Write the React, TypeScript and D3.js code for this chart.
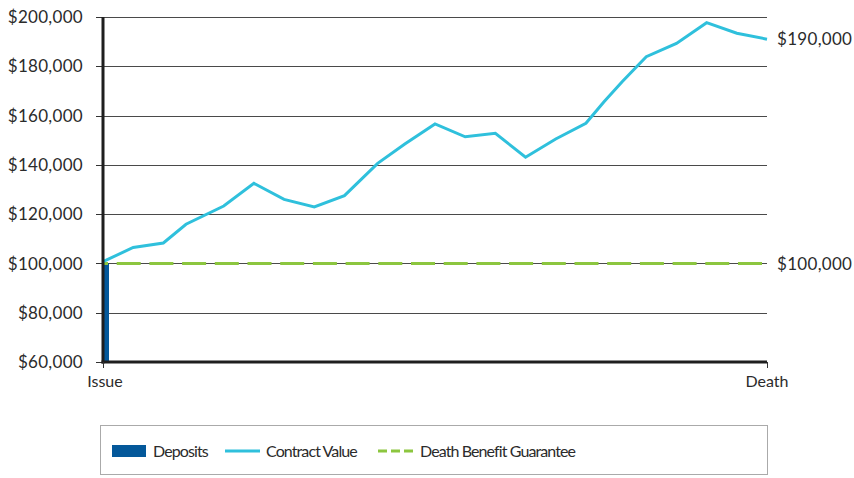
import React from "react";
import * as d3 from "d3";

// contract value path, x in policy years from Issue (0) to Death (22)
const years = [0, 1, 2, 2.75, 4, 5, 6, 7, 8, 9.1, 10, 11, 12, 13, 14, 15, 16, 16.6, 17.2, 18, 19, 20, 21, 22];
const contractValue = [
  100700, 106500, 108300, 115900, 123300, 132500, 126000, 122900, 127500, 140600, 148500, 156600,
  151400, 152800, 143100, 150500, 156900, 165600, 173700, 183900, 189300, 197700, 193400, 191000,
];
const depositYears = [0];
const depositValues = [100000];
const guaranteeYears = [0, 22];
const guaranteeValues = [100000, 100000];
const yTicks = [60000, 80000, 100000, 120000, 140000, 160000, 180000, 200000];
const xTickYears = [0, 22];
const xTickLabels = ["Issue", "Death"];
const endLabels = ["$190,000", "$100,000"];
const legendLabels = ["Deposits", "Contract Value", "Death Benefit Guarantee"];

const W = 854;
const H = 478;
const FONT = "Lato, 'Open Sans', sans-serif";
const TEXT = "#2b2b2b";
const BLUE = "#04589a";
const CYAN = "#2fc0dc";
const GREEN = "#8cc63f";

export default function App() {
  const x = d3.scaleLinear().domain([0, 22]).range([103, 767]);
  const y = d3.scaleLinear().domain([60000, 200000]).range([362, 17]);
  const fmt = (v: number) => "$" + d3.format(",")(v);

  const line = d3
    .line<number>()
    .x((_, i) => x(years[i]))
    .y((d) => y(d));

  const gLine = d3
    .line<number>()
    .x((_, i) => x(guaranteeYears[i]))
    .y((d) => y(d));

  const numStyle = { fontFamily: FONT, fontSize: 17, letterSpacing: 0.3, fill: TEXT };
  const legStyle = { fontFamily: FONT, fontSize: 16, letterSpacing: -0.9, fill: TEXT };

  return (
    <div style={{ position: "absolute", left: 0, top: 0 }}>
      <svg width={W} height={H} style={{ display: "block", background: "#fff" }}>
        {/* gridlines + y ticks */}
        {yTicks.map((t) => (
          <g key={t}>
            <line x1={x(0)} x2={x(22)} y1={Math.round(y(t)) + 0.5} y2={Math.round(y(t)) + 0.5} stroke="#4a4a4a" strokeWidth={1} />
            <line x1={96} x2={x(0)} y1={Math.round(y(t)) + 0.5} y2={Math.round(y(t)) + 0.5} stroke="#333" strokeWidth={1} />
            <text x={83} y={y(t)} dy="0.36em" textAnchor="end" style={numStyle}>
              {fmt(t)}
            </text>
          </g>
        ))}

        {/* deposits */}
        {depositYears.map((d, i) => (
          <rect key={i} x={x(d) + 1} y={y(depositValues[i])} width={5} height={y(60000) - y(depositValues[i])} fill={BLUE} />
        ))}

        {/* death benefit guarantee */}
        <path
          d={gLine(guaranteeValues) || ""}
          fill="none"
          stroke={GREEN}
          strokeWidth={3}
          strokeDasharray="24 8.7"
          strokeDashoffset={19}
        />

        {/* contract value */}
        <path d={line(contractValue) || ""} fill="none" stroke={CYAN} strokeWidth={3} strokeLinejoin="miter" />

        {/* axes */}
        <line x1={x(0)} x2={x(0)} y1={y(200000)} y2={y(60000) + 1.5} stroke="#1f1f1f" strokeWidth={3} />
        <line x1={x(0) - 1.5} x2={x(22)} y1={y(60000)} y2={y(60000)} stroke="#1f1f1f" strokeWidth={3} />
        {xTickYears.map((t, i) => (
          <g key={t}>
            <line x1={x(t) + 0.5} x2={x(t) + 0.5} y1={y(60000)} y2={y(60000) + 6} stroke="#333" strokeWidth={1} />
            <text x={x(t) + (i === 0 ? 2 : 0)} y={387} textAnchor="middle" fontFamily={FONT} fontSize={16} fill={TEXT}>
              {xTickLabels[i]}
            </text>
          </g>
        ))}

        {/* end labels */}
        <text x={x(22) + 10} y={y(contractValue[contractValue.length - 1])} dy="0.36em" style={numStyle}>
          {endLabels[0]}
        </text>
        <text x={x(22) + 10} y={y(guaranteeValues[1])} dy="0.36em" style={numStyle}>
          {endLabels[1]}
        </text>

        {/* legend */}
        <rect x={100.5} y={425.5} width={667} height={49} fill="#fff" stroke="#aaa" strokeWidth={1} />
        <rect x={112} y={445} width={34} height={12} fill={BLUE} />
        <text x={153} y={457} style={legStyle}>
          {legendLabels[0]}
        </text>
        <line x1={225} x2={260} y1={451} y2={451} stroke={CYAN} strokeWidth={3} />
        <text x={266} y={457} style={legStyle}>
          {legendLabels[1]}
        </text>
        <line x1={378} x2={413} y1={451} y2={451} stroke={GREEN} strokeWidth={3} strokeDasharray="9 4" />
        <text x={420} y={457} style={legStyle}>
          {legendLabels[2]}
        </text>
      </svg>
    </div>
  );
}
